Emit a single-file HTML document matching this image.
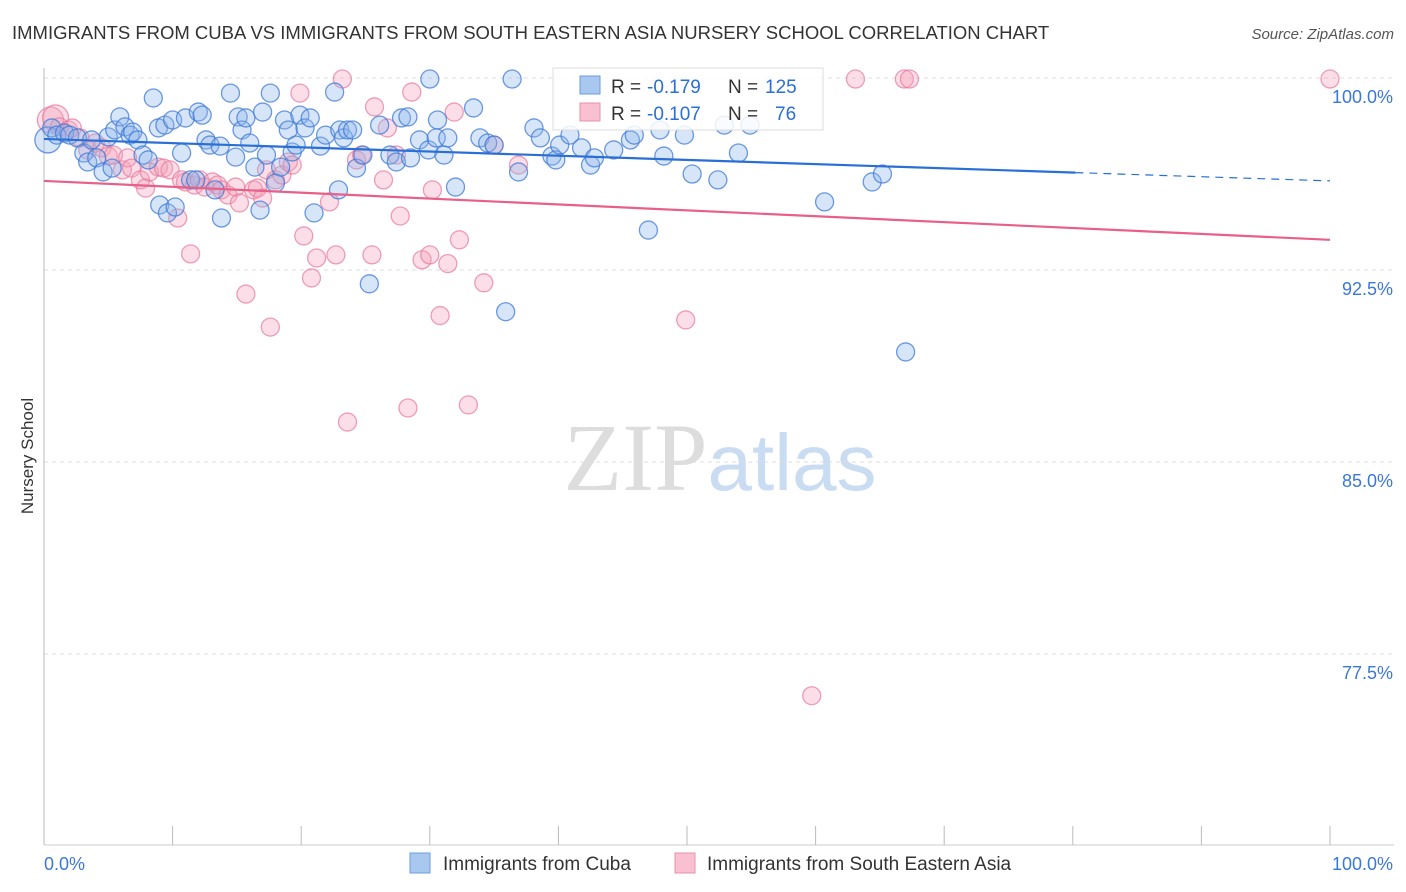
<!DOCTYPE html>
<html><head><meta charset="utf-8"><style>
body{margin:0;background:#fff;font-family:"Liberation Sans",sans-serif;}
svg{display:block}
</style></head><body>
<svg id="chart" width="1406" height="892" xmlns="http://www.w3.org/2000/svg">
<text x="12" y="39" font-size="18.5" fill="#333">IMMIGRANTS FROM CUBA VS IMMIGRANTS FROM SOUTH EASTERN ASIA NURSERY SCHOOL CORRELATION CHART</text>
<text x="1394" y="39" font-size="15" fill="#555" text-anchor="end" font-style="italic">Source: ZipAtlas.com</text>
<text x="720" y="490" font-size="96" text-anchor="middle" fill="#ddd" font-family="Liberation Serif,serif">ZIP<tspan fill="#c9dcf2" font-family="Liberation Sans,sans-serif" font-size="80">atlas</tspan></text>
<text transform="translate(33,456) rotate(-90)" font-size="17" fill="#333" text-anchor="middle">Nursery School</text>
<g id="grid"></g><g id="axes"></g><g id="pts"></g><g id="lines"></g>
<g>
<rect x="553" y="68" width="270" height="62" fill="#fff" fill-opacity="0.85" stroke="#ddd"/>
<rect x="580" y="76" width="20" height="18" fill="#a9c8f0" stroke="#6a9de0"/>
<text x="611" y="93" font-size="19" fill="#333">R =</text><text x="647" y="93" font-size="19" fill="#2a6fd6">-0.179</text>
<text x="728" y="93" font-size="19" fill="#333">N =</text><text x="765" y="93" font-size="19" fill="#2a6fd6">125</text>
<rect x="580" y="103" width="20" height="18" fill="#f8c0d0" stroke="#e890aa"/>
<text x="611" y="120" font-size="19" fill="#333">R =</text><text x="647" y="120" font-size="19" fill="#2a6fd6">-0.107</text>
<text x="728" y="120" font-size="19" fill="#333">N =</text><text x="775" y="120" font-size="19" fill="#2a6fd6">76</text>
</g>
<g>
<rect x="410" y="853" width="20" height="20" fill="#a9c8f0" stroke="#6a9de0"/>
<text x="443" y="870" font-size="19" fill="#333">Immigrants from Cuba</text>
<rect x="675" y="853" width="20" height="20" fill="#f8c0d0" stroke="#e890aa"/>
<text x="707" y="870" font-size="19" fill="#333">Immigrants from South Eastern Asia</text>
</g>
</svg>
<script>
const yTicks=[100,92.5,85,77.5];
const yTickLabels=["100.0%","92.5%","85.0%","77.5%"];
const xLabels=["0.0%","100.0%"];
const blueX=[0.3,0.6,1.0,1.6,2.0,2.6,3.1,3.4,3.7,4.1,4.6,5.0,5.3,5.5,5.9,6.3,6.7,6.9,7.3,7.7,8.1,8.5,8.9,9.0,9.4,9.6,10.0,10.2,10.7,11.0,11.4,11.8,12.0,12.3,12.6,12.9,13.3,13.7,13.8,14.5,14.9,15.1,15.4,15.7,16.0,16.4,16.8,17.0,17.3,17.6,18.0,18.4,18.7,19.0,19.3,19.6,19.9,20.3,20.7,21.0,21.5,21.9,22.6,22.9,23.0,23.3,23.6,24.0,24.3,24.8,25.3,26.1,26.9,27.4,27.8,28.3,28.5,29.2,29.9,30.0,30.5,30.6,31.1,31.4,32.0,33.4,33.9,34.5,35.0,35.9,36.4,36.9,38.1,38.6,39.5,39.8,40.1,40.9,41.8,42.5,42.8,44.3,45.6,45.9,47.0,47.9,48.2,49.8,50.4,52.4,52.9,54.0,54.9,60.7,64.4,65.2,67.0];
const blueY=[97.58,98.05,97.77,97.85,97.77,97.66,97.07,96.72,97.58,96.88,96.33,97.70,96.48,97.97,98.48,98.09,97.77,97.89,97.58,96.99,96.80,99.22,98.05,95.04,98.16,94.73,98.36,94.96,97.07,98.44,96.02,96.02,98.67,98.55,97.58,97.38,95.63,97.34,94.53,99.41,96.91,98.48,97.97,98.44,97.46,96.52,94.84,98.67,96.99,99.41,95.90,96.52,98.36,97.97,97.11,97.38,98.55,98.05,98.44,94.73,97.34,97.77,99.45,95.63,97.97,97.66,97.97,97.97,96.48,96.99,91.96,98.16,96.99,96.72,98.44,98.48,96.88,97.58,97.19,99.96,97.66,98.36,96.99,97.66,95.74,98.83,97.66,97.46,97.38,90.87,99.96,96.33,98.05,97.66,96.95,96.80,97.38,97.77,97.27,96.60,96.88,97.19,97.58,97.77,94.06,97.97,96.95,97.77,96.25,96.02,98.16,97.07,98.16,95.16,95.94,96.25,89.30];
const pinkX=[0.5,0.9,1.2,1.9,2.2,2.8,3.4,4.0,4.5,5.0,5.4,6.1,6.5,6.8,7.5,7.9,8.2,8.9,9.3,9.8,10.4,10.7,11.0,11.4,11.7,12.1,12.5,13.1,13.5,13.8,14.3,14.9,15.2,15.7,16.3,16.6,17.0,17.3,17.6,18.0,18.5,19.0,19.3,19.9,20.2,20.8,21.2,22.2,22.7,23.2,23.6,24.3,24.7,25.5,25.7,26.4,26.7,27.4,27.7,28.3,28.6,29.4,30.0,30.2,30.8,31.4,31.9,32.3,33.0,34.2,35.0,36.9,49.9,59.7,63.1,66.9,67.3,100];
const pinkY=[98.36,98.44,98.09,97.97,98.05,97.66,97.19,97.46,97.27,96.95,96.99,96.41,96.88,96.48,96.02,95.70,96.33,96.52,96.48,96.41,94.53,96.02,95.94,93.13,95.82,96.02,95.74,95.94,95.82,95.63,95.43,95.74,95.12,91.56,95.63,95.70,95.31,96.41,90.27,96.02,96.21,96.72,96.60,99.41,93.83,92.19,92.97,95.16,93.09,99.96,86.56,96.80,96.99,93.09,98.87,96.02,98.05,96.99,94.61,87.11,99.45,92.90,93.09,95.63,90.72,92.75,98.67,93.68,87.23,92.00,97.38,96.60,90.55,75.87,99.96,99.96,99.96,99.96];
const blueTrend=[97.62,95.98];
const pinkTrend=[95.98,93.68];
const NS="http://www.w3.org/2000/svg";
const X0=44,X1=1330,Y100=78,PXPCT=25.6;
const sx=v=>X0+(X1-X0)*v/100;
const sy=v=>Y100+(100-v)*PXPCT;
function mk(tag,attrs,parent){const e=document.createElementNS(NS,tag);for(const k in attrs)e.setAttribute(k,attrs[k]);document.getElementById(parent).appendChild(e);return e;}
yTicks.forEach((t,i)=>{
 const l=mk('line',{x1:44,x2:1394,y1:sy(t),y2:sy(t),stroke:'#ddd','stroke-dasharray':'4,4'},'grid');
 
 
 const tx=mk('text',{x:1393,y:sy(t)+25,'font-size':18,fill:'#3a78d8','text-anchor':'end'},'grid');
 tx.textContent=yTickLabels[i];
 
 
});
const ax=mk('line',{x1:44,x2:44,y1:68,y2:845,stroke:'#bbb'},'axes');


const bx=mk('line',{x1:44,x2:1394,y1:845,y2:845,stroke:'#ccc'},'axes');


for(let i=0;i<=10;i++){const t=mk('line',{x1:sx(i*10),x2:sx(i*10),y1:826,y2:845,stroke:'#bbb'},'axes');
 
 }
const xl0=mk('text',{x:44,y:870,'font-size':18,fill:'#3a78d8'},'axes');xl0.textContent=xLabels[0];


const xl1=mk('text',{x:1393,y:870,'font-size':18,fill:'#3a78d8','text-anchor':'end'},'axes');xl1.textContent=xLabels[1];


pinkX.forEach((x,i)=>{const c=mk('circle',{cx:sx(x),cy:sy(pinkY[i]),r:i<2?13:9,fill:'rgba(244,160,185,0.35)',stroke:'rgba(232,120,155,0.7)','stroke-width':1.3},'pts');
 
 });
blueX.forEach((x,i)=>{const c=mk('circle',{cx:sx(x),cy:sy(blueY[i]),r:i<1?13:9,fill:'rgba(140,180,235,0.35)',stroke:'rgba(60,120,215,0.75)','stroke-width':1.3},'pts');
 
 });
const bAt=x=>blueTrend[0]+(blueTrend[1]-blueTrend[0])*x/100;
const b1=mk('line',{x1:sx(0),y1:sy(bAt(0)),x2:sx(80.2),y2:sy(bAt(80.2)),stroke:'#2a6fd6','stroke-width':2.2},'lines');


const b2=mk('line',{x1:sx(80.2),y1:sy(bAt(80.2)),x2:sx(100),y2:sy(bAt(100)),stroke:'#2a6fd6','stroke-width':1.2,'stroke-dasharray':'8,6'},'lines');


const p1=mk('line',{x1:sx(0),y1:sy(pinkTrend[0]),x2:sx(100),y2:sy(pinkTrend[1]),stroke:'#e8608a','stroke-width':2.2},'lines');


</script>
</body></html>
